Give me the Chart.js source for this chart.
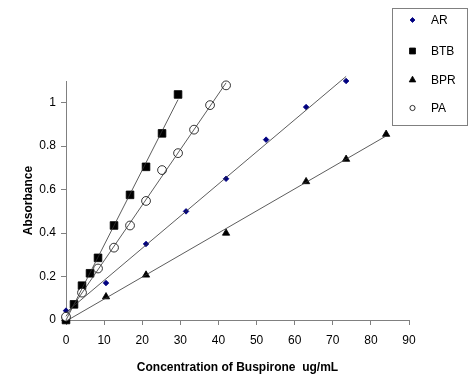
<!DOCTYPE html>
<html>
<head>
<meta charset="utf-8">
<script src="https://cdn.jsdelivr.net/npm/chart.js@4"></script>
<style>
  html, body { margin: 0; padding: 0; background: #fff; }
  #wrap { width: 474px; height: 389px; }
</style>
</head>
<body>
<div id="wrap"><canvas id="chart" width="474" height="389"></canvas></div>
<script>
// values
var arX = [0, 10.5, 21, 31.5, 42, 52.5, 63, 73.5];
var arY = [0.043, 0.17, 0.35, 0.50, 0.65, 0.83, 0.98, 1.10];

var btbX = [0, 2.1, 4.2, 6.3, 8.4, 12.6, 16.8, 21, 25.2, 29.4];
var btbY = [0, 0.072, 0.158, 0.215, 0.286, 0.435, 0.576, 0.705, 0.859, 1.038];

var bprX = [0, 10.5, 21, 42, 63, 73.5, 84];
var bprY = [0, 0.107, 0.207, 0.40, 0.637, 0.74, 0.855];

var paX = [0, 4.2, 8.4, 12.6, 16.8, 21, 25.2, 29.4, 33.6, 37.8, 42];
var paY = [0.015, 0.126, 0.237, 0.333, 0.435, 0.548, 0.69, 0.768, 0.876, 0.989, 1.08];

var xTicks = [0, 10, 20, 30, 40, 50, 60, 70, 80, 90];
var yTicks = [0, 0.2, 0.4, 0.6, 0.8, 1];

var FONT = "'Liberation Sans', Arial, sans-serif";
var AXIS_GRAY = '#808080';

function toPoints(xs, ys) {
    var pts = [];
    for (var i = 0; i < xs.length; i++) {
        pts.push({ x: xs[i], y: ys[i] });
    }
    return pts;
}

// least squares trend line over the data range (like the spreadsheet trendline)
function trendLine(xs, ys) {
    var n = xs.length, sx = 0, sy = 0, sxx = 0, sxy = 0;
    for (var i = 0; i < n; i++) {
        sx += xs[i]; sy += ys[i];
        sxx += xs[i] * xs[i]; sxy += xs[i] * ys[i];
    }
    var slope = (n * sxy - sx * sy) / (n * sxx - sx * sx);
    var icpt = (sy - slope * sx) / n;
    var x0 = Math.min.apply(null, xs), x1 = Math.max.apply(null, xs);
    return [{ x: x0, y: icpt + slope * x0 }, { x: x1, y: icpt + slope * x1 }];
}

function lineSet(xs, ys) {
    return {
        type: 'line',
        data: trendLine(xs, ys),
        borderColor: '#333333',
        borderWidth: 0.8,
        pointRadius: 0,
        fill: false,
        clip: false
    };
}

var markers = [
    { label: 'AR', style: 'rectRot', radius: 2.8, legendRadius: 2.5, fill: '#000080', stroke: '#000080', xs: arX, ys: arY },
    { label: 'BTB', style: 'rect', radius: 5.4, legendRadius: 4.2, fill: '#000000', stroke: '#000000', xs: btbX, ys: btbY },
    { label: 'BPR', style: 'triangle', radius: 4.2, legendRadius: 3.8, fill: '#000000', stroke: '#000000', xs: bprX, ys: bprY },
    { label: 'PA', style: 'circle', radius: 4.4, legendRadius: 2.6, fill: '#ffffff', stroke: '#000000', xs: paX, ys: paY }
];

// first dataset is drawn last: trend lines on top, then later series over earlier ones
var datasets = [];
markers.forEach(function (m) {
    datasets.push(lineSet(m.xs, m.ys));
});
markers.slice().reverse().forEach(function (m) {
    datasets.push({
        label: m.label,
        data: toPoints(m.xs, m.ys),
        showLine: false,
        clip: false,
        pointStyle: m.style,
        pointRadius: m.radius,
        pointBackgroundColor: m.fill,
        pointBorderColor: m.stroke,
        pointBorderWidth: 0.8
    });
});

// legend box in the top right corner
var boxLegend = {
    id: 'boxLegend',
    afterDraw: function (chart) {
        var ctx = chart.ctx;
        ctx.save();
        ctx.strokeStyle = AXIS_GRAY;
        ctx.lineWidth = 1;
        ctx.strokeRect(392.5, 8.5, 75, 117);
        var rows = [20, 51, 80, 108];
        ctx.font = '12px ' + FONT;
        ctx.textBaseline = 'middle';
        markers.forEach(function (m, i) {
            ctx.fillStyle = m.fill;
            ctx.strokeStyle = m.stroke;
            ctx.lineWidth = 0.8;
            Chart.helpers.drawPoint(ctx, { pointStyle: m.style, radius: m.legendRadius, borderWidth: 0.8 }, 412.5, rows[i]);
            ctx.fillStyle = '#000';
            ctx.fillText(m.label, 431, rows[i] + 1);
        });
        ctx.restore();
    }
};

new Chart(document.getElementById('chart'), {
    type: 'scatter',
    data: { datasets: datasets },
    plugins: [boxLegend],
    options: {
        responsive: false,
        animation: false,
        layout: { padding: { top: 81, right: 65, bottom: 0, left: 0 } },
        plugins: {
            legend: { display: false },
            tooltip: { enabled: false }
        },
        scales: {
            x: {
                type: 'linear',
                min: 0,
                max: 90,
                afterBuildTicks: function (axis) {
                    axis.ticks = xTicks.map(function (v) { return { value: v }; });
                },
                afterFit: function (axis) { axis.height = 69; },
                border: { color: AXIS_GRAY, width: 1 },
                grid: { drawOnChartArea: false, color: AXIS_GRAY, tickLength: 5 },
                ticks: { color: '#000', font: { family: FONT, size: 12 }, padding: 8, maxRotation: 0 },
                title: {
                    display: true,
                    text: 'Concentration of Buspirone  ug/mL',
                    color: '#000',
                    font: { family: FONT, size: 12, weight: 'bold' },
                    padding: { top: 0, bottom: 14 }
                }
            },
            y: {
                type: 'linear',
                min: 0,
                max: 1.1,
                afterBuildTicks: function (axis) {
                    axis.ticks = yTicks.map(function (v) { return { value: v }; });
                },
                afterFit: function (axis) { axis.width = 66; },
                border: { color: AXIS_GRAY, width: 1 },
                grid: { drawOnChartArea: false, color: AXIS_GRAY, tickLength: 5 },
                ticks: {
                    color: '#000',
                    font: { family: FONT, size: 12 },
                    padding: 5,
                    callback: function (v) { return String(Math.round(v * 10) / 10); }
                },
                title: {
                    display: true,
                    text: 'Absorbance',
                    color: '#000',
                    font: { family: FONT, size: 12, weight: 'bold' },
                    padding: { top: 21, bottom: 0 }
                }
            }
        }
    }
});
</script>
</body>
</html>
